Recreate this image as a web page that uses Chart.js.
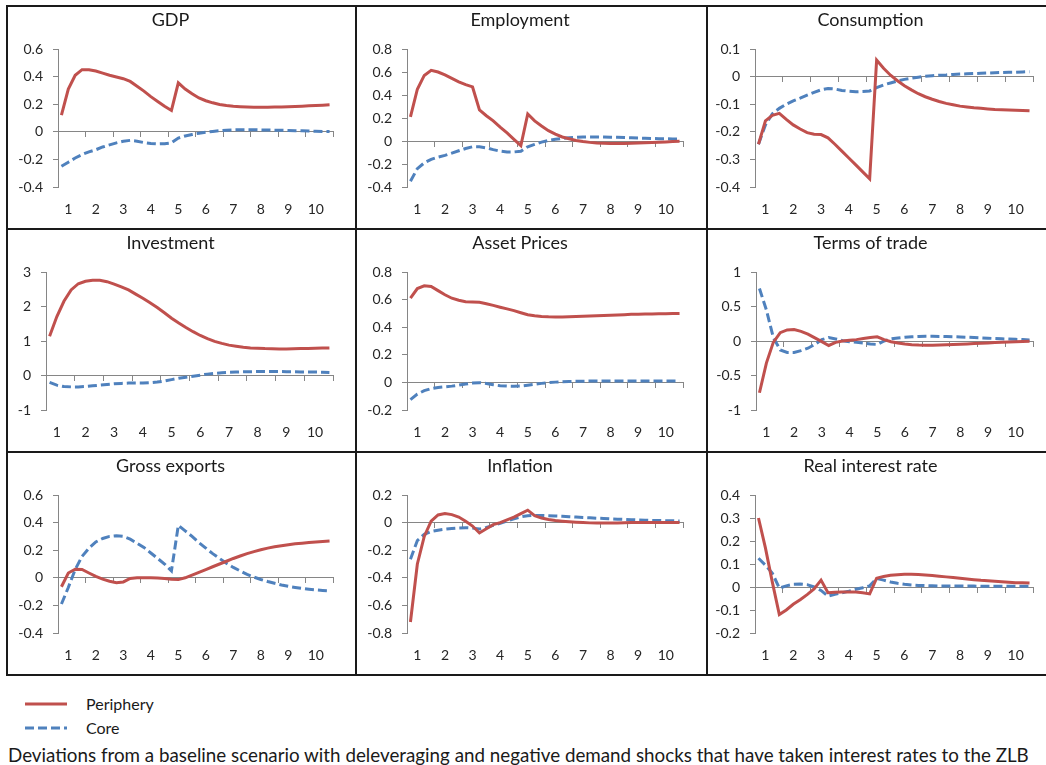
<!DOCTYPE html>
<html>
<head>
<meta charset="utf-8">
<script src="https://cdn.jsdelivr.net/npm/chart.js@4.4.1/dist/chart.umd.min.js"></script>
<style>
  body { margin: 0; background: #fff; width: 1046px; height: 765px; overflow: hidden; position: relative; font-family: Lato, sans-serif; color: #1a1a1a; }
  #grid { position: absolute; left: 6px; top: 5px; display: grid; grid-template-columns: 347px 349px 338px; grid-template-rows: 221px 221px 221px; gap: 2px; padding: 2px; background: #1a1a1a; }
  .cell { background: #fff; }
  .cell canvas { display: block; }
  .leg { position: absolute; left: 25px; width: 42px; height: 4px; }
  .legtext { position: absolute; left: 86px; font-size: 16px; line-height: 20px; }
  #caption { position: absolute; left: 8px; top: 743px; font-size: 18.8px; line-height: 24px; white-space: nowrap; }
</style>
</head>
<body>
<div id="grid"></div>
<svg class="leg" style="top:702px"><line x1="0" y1="2" x2="42" y2="2" stroke="#C0504D" stroke-width="3"/></svg>
<div class="legtext" style="top:694px">Periphery</div>
<svg class="leg" style="top:726px"><line x1="0" y1="2" x2="42" y2="2" stroke="#4F81BD" stroke-width="3" stroke-dasharray="9 4"/></svg>
<div class="legtext" style="top:718px">Core</div>
<div id="caption">Deviations from a baseline scenario with deleveraging and negative demand shocks that have taken interest rates to the ZLB</div>
<script>
const panelTitles = ['GDP', 'Employment', 'Consumption', 'Investment', 'Asset Prices', 'Terms of trade', 'Gross exports', 'Inflation', 'Real interest rate'];
const yearLabels = ['1', '2', '3', '4', '5', '6', '7', '8', '9', '10'];
const yMin = [-0.4, -0.4, -0.4, -1, -0.2, -1, -0.4, -0.8, -0.2];
const yMax = [0.6, 0.8, 0.1, 3, 0.8, 1, 0.6, 0.2, 0.4];
const yStep = [0.2, 0.2, 0.1, 1, 0.2, 0.5, 0.2, 0.2, 0.1];

// quarterly values, 40 per series
const gdpPeriphery = [0.12, 0.31, 0.41, 0.45, 0.45, 0.44, 0.425, 0.41, 0.397, 0.385, 0.365, 0.33, 0.295, 0.255, 0.22, 0.185, 0.155, 0.355, 0.31, 0.275, 0.245, 0.225, 0.21, 0.198, 0.19, 0.185, 0.182, 0.18, 0.178, 0.178, 0.178, 0.179, 0.18, 0.182, 0.184, 0.186, 0.188, 0.19, 0.193, 0.196];
const gdpCore = [-0.25, -0.22, -0.19, -0.165, -0.145, -0.13, -0.11, -0.095, -0.08, -0.068, -0.062, -0.068, -0.078, -0.085, -0.088, -0.086, -0.08, -0.045, -0.03, -0.02, -0.01, -0.003, 0.003, 0.008, 0.012, 0.014, 0.015, 0.015, 0.015, 0.014, 0.013, 0.012, 0.011, 0.01, 0.008, 0.007, 0.005, 0.004, 0.003, 0.002];
const empPeriphery = [0.21, 0.45, 0.57, 0.615, 0.6, 0.575, 0.545, 0.515, 0.49, 0.47, 0.27, 0.22, 0.175, 0.12, 0.07, 0.015, -0.04, 0.235, 0.175, 0.13, 0.09, 0.06, 0.035, 0.02, 0.005, -0.005, -0.012, -0.017, -0.02, -0.022, -0.022, -0.021, -0.019, -0.017, -0.015, -0.013, -0.01, -0.008, -0.005, -0.003];
const empCore = [-0.35, -0.24, -0.19, -0.16, -0.14, -0.125, -0.105, -0.085, -0.065, -0.05, -0.05, -0.06, -0.075, -0.088, -0.095, -0.095, -0.09, -0.05, -0.03, -0.01, 0.005, 0.015, 0.022, 0.028, 0.032, 0.034, 0.035, 0.035, 0.034, 0.033, 0.032, 0.03, 0.028, 0.026, 0.024, 0.022, 0.02, 0.019, 0.018, 0.017];
const consPeriphery = [-0.245, -0.16, -0.14, -0.133, -0.155, -0.175, -0.19, -0.203, -0.209, -0.21, -0.222, -0.245, -0.27, -0.295, -0.32, -0.345, -0.37, 0.06, 0.03, 0.005, -0.015, -0.033, -0.048, -0.062, -0.073, -0.082, -0.09, -0.097, -0.102, -0.107, -0.11, -0.113, -0.115, -0.117, -0.119, -0.12, -0.121, -0.122, -0.123, -0.124];
const consCore = [-0.245, -0.175, -0.135, -0.115, -0.1, -0.088, -0.078, -0.067, -0.057, -0.048, -0.043, -0.045, -0.05, -0.053, -0.055, -0.054, -0.052, -0.04, -0.03, -0.023, -0.016, -0.01, -0.006, -0.002, 0.001, 0.003, 0.005, 0.006, 0.008, 0.009, 0.01, 0.011, 0.012, 0.013, 0.014, 0.015, 0.016, 0.016, 0.017, 0.018];
const invPeriphery = [1.14, 1.7, 2.15, 2.48, 2.66, 2.73, 2.76, 2.76, 2.72, 2.65, 2.57, 2.48, 2.36, 2.24, 2.11, 1.97, 1.82, 1.66, 1.52, 1.39, 1.27, 1.16, 1.07, 0.99, 0.93, 0.88, 0.85, 0.82, 0.8, 0.79, 0.78, 0.775, 0.77, 0.77, 0.775, 0.78, 0.785, 0.79, 0.795, 0.8];
const invCore = [-0.2, -0.28, -0.32, -0.33, -0.33, -0.32, -0.3, -0.28, -0.26, -0.24, -0.23, -0.22, -0.22, -0.22, -0.21, -0.19, -0.16, -0.12, -0.08, -0.05, -0.02, 0.01, 0.04, 0.06, 0.08, 0.09, 0.1, 0.11, 0.11, 0.115, 0.115, 0.115, 0.115, 0.11, 0.11, 0.105, 0.1, 0.1, 0.095, 0.09];
const assetPeriphery = [0.61, 0.68, 0.7, 0.695, 0.665, 0.635, 0.61, 0.595, 0.585, 0.582, 0.58, 0.57, 0.558, 0.545, 0.533, 0.52, 0.505, 0.49, 0.483, 0.478, 0.475, 0.474, 0.474, 0.475, 0.477, 0.479, 0.481, 0.483, 0.485, 0.487, 0.489, 0.491, 0.493, 0.494, 0.495, 0.496, 0.497, 0.498, 0.499, 0.5];
const assetCore = [-0.125, -0.085, -0.06, -0.045, -0.037, -0.032, -0.027, -0.02, -0.012, -0.005, -0.002, -0.008, -0.017, -0.024, -0.027, -0.028, -0.026, -0.02, -0.013, -0.007, -0.002, 0.002, 0.005, 0.007, 0.008, 0.009, 0.01, 0.01, 0.01, 0.01, 0.01, 0.01, 0.01, 0.01, 0.01, 0.01, 0.01, 0.01, 0.01, 0.01];
const totPeriphery = [-0.75, -0.32, -0.02, 0.12, 0.16, 0.165, 0.14, 0.1, 0.045, -0.01, -0.065, -0.02, 0.0, 0.01, 0.02, 0.035, 0.05, 0.06, 0.02, -0.01, -0.03, -0.045, -0.053, -0.058, -0.06, -0.06, -0.058, -0.055, -0.052, -0.048, -0.043, -0.038, -0.033, -0.028, -0.023, -0.018, -0.014, -0.01, -0.007, -0.005];
const totCore = [0.76, 0.45, 0.05, -0.13, -0.165, -0.165, -0.14, -0.105, -0.05, 0.02, 0.05, 0.03, 0.005, -0.01, -0.02, -0.03, -0.045, -0.05, 0.0, 0.03, 0.045, 0.055, 0.062, 0.066, 0.068, 0.068, 0.067, 0.065, 0.062, 0.058, 0.054, 0.05, 0.045, 0.04, 0.036, 0.032, 0.028, 0.024, 0.02, 0.016];
const expPeriphery = [-0.065, 0.035, 0.062, 0.06, 0.035, 0.01, -0.01, -0.025, -0.035, -0.03, -0.005, 0.0, 0.0, 0.0, -0.002, -0.005, -0.01, -0.013, 0.0, 0.02, 0.04, 0.06, 0.08, 0.1, 0.12, 0.14, 0.158, 0.175, 0.19, 0.203, 0.215, 0.225, 0.233, 0.24, 0.246, 0.251, 0.256, 0.26, 0.263, 0.266];
const expCore = [-0.19, -0.07, 0.06, 0.155, 0.215, 0.26, 0.285, 0.3, 0.305, 0.3, 0.28, 0.25, 0.22, 0.18, 0.14, 0.1, 0.05, 0.38, 0.34, 0.3, 0.255, 0.215, 0.175, 0.14, 0.105, 0.075, 0.05, 0.025, 0.005, -0.012, -0.027, -0.04, -0.052, -0.062, -0.07, -0.077, -0.083, -0.088, -0.092, -0.095];
const inflPeriphery = [-0.72, -0.3, -0.1, 0.01, 0.055, 0.065, 0.058, 0.04, 0.01, -0.025, -0.075, -0.045, -0.015, 0.0, 0.02, 0.04, 0.065, 0.09, 0.05, 0.033, 0.022, 0.015, 0.01, 0.006, 0.003, 0.0, -0.002, -0.003, -0.003, -0.003, -0.002, -0.001, 0.0, 0.0, 0.0, 0.0, 0.0, 0.0, 0.0, 0.0];
const inflCore = [-0.265, -0.13, -0.085, -0.065, -0.055, -0.048, -0.043, -0.039, -0.037, -0.04, -0.047, -0.035, -0.02, -0.005, 0.012, 0.028, 0.042, 0.05, 0.052, 0.052, 0.05, 0.048, 0.046, 0.043, 0.04, 0.037, 0.035, 0.032, 0.03, 0.027, 0.025, 0.023, 0.021, 0.019, 0.017, 0.016, 0.015, 0.014, 0.013, 0.012];
const rirPeriphery = [0.3, 0.17, 0.02, -0.12, -0.1, -0.075, -0.055, -0.033, -0.008, 0.03, -0.025, -0.023, -0.022, -0.022, -0.022, -0.025, -0.03, 0.038, 0.046, 0.051, 0.053, 0.055, 0.055, 0.054, 0.052, 0.05, 0.047, 0.044, 0.041, 0.038, 0.035, 0.032, 0.029, 0.027, 0.025, 0.023, 0.021, 0.019, 0.018, 0.017];
const rirCore = [0.125, 0.095, 0.06, -0.005, 0.005, 0.012, 0.013, 0.01, 0.0, -0.015, -0.04, -0.032, -0.025, -0.018, -0.01, -0.003, 0.005, 0.037, 0.03, 0.022, 0.016, 0.012, 0.009, 0.007, 0.006, 0.005, 0.004, 0.004, 0.004, 0.004, 0.004, 0.004, 0.003, 0.003, 0.003, 0.003, 0.003, 0.003, 0.003, 0.003];

const peripherySeries = [gdpPeriphery, empPeriphery, consPeriphery, invPeriphery, assetPeriphery, totPeriphery, expPeriphery, inflPeriphery, rirPeriphery];
const coreSeries = [gdpCore, empCore, consCore, invCore, assetCore, totCore, expCore, inflCore, rirCore];

// layout per panel
const cellW = [347, 349, 338];
const cellH = 221;
const yAxisWidth = [50, 50, 47, 38, 50, 48, 50, 50, 47];
const rightPad = [22, 23, 13];

const tickFont = { family: 'Lato', size: 14 };
const axisGrey = '#868686';
const textColor = '#262626';

const toPoints = arr => arr.map((v, i) => ({ x: i + 0.5, y: v }));

const grid = document.getElementById('grid');

panelTitles.forEach((title, p) => {
  const col = p % 3;
  const cell = document.createElement('div');
  cell.className = 'cell';
  const canvas = document.createElement('canvas');
  canvas.width = cellW[col];
  canvas.height = cellH;
  cell.appendChild(canvas);
  grid.appendChild(cell);

  const yTicks = [];
  for (let v = yMin[p]; v <= yMax[p] + 1e-9; v += yStep[p]) {
    yTicks.push(Math.round(v * 1000) / 1000);
  }

  new Chart(canvas, {
    type: 'line',
    data: {
      datasets: [
        {
          label: 'Periphery',
          data: toPoints(peripherySeries[p]),
          borderColor: '#C0504D',
          borderWidth: 3,
          pointRadius: 0,
          tension: 0,
          xAxisID: 'x',
          yAxisID: 'y'
        },
        {
          label: 'Core',
          data: toPoints(coreSeries[p]),
          borderColor: '#4F81BD',
          borderWidth: 3,
          borderDash: [9, 4],
          pointRadius: 0,
          tension: 0,
          xAxisID: 'x',
          yAxisID: 'y'
        }
      ]
    },
    options: {
      responsive: false,
      animation: false,
      events: [],
      layout: { padding: { left: 0, right: rightPad[col], top: 0, bottom: 0 } },
      plugins: {
        legend: { display: false },
        tooltip: { enabled: false },
        title: {
          display: true,
          text: title,
          color: '#1a1a1a',
          font: { family: 'Lato', size: 18, weight: 'normal' },
          padding: { top: 2, bottom: 18.4 }
        }
      },
      scales: {
        x: {
          type: 'linear',
          min: 0,
          max: 40,
          position: { y: 0 },
          afterBuildTicks: s => { s.ticks = yearLabels.concat(['']).map((l, k) => ({ value: k * 4 })); },
          ticks: { display: false },
          grid: { display: true, drawOnChartArea: false, drawTicks: true, tickLength: 5, color: axisGrey },
          border: { display: true, color: axisGrey, width: 1 }
        },
        years: {
          type: 'linear',
          axis: 'x',
          position: 'bottom',
          min: 0,
          max: 40,
          afterBuildTicks: s => { s.ticks = yearLabels.map((l, k) => ({ value: k * 4 + 1.5 })); },
          afterFit: s => { s.height = 41; },
          ticks: {
            autoSkip: false,
            maxRotation: 0,
            padding: 14,
            color: textColor,
            font: tickFont,
            callback: (v, i) => yearLabels[i]
          },
          grid: { display: false, drawTicks: false },
          border: { display: false }
        },
        y: {
          min: yMin[p],
          max: yMax[p],
          afterBuildTicks: s => { s.ticks = yTicks.map(v => ({ value: v })); },
          afterFit: s => { s.width = yAxisWidth[p]; },
          ticks: {
            padding: 10,
            color: textColor,
            font: tickFont,
            callback: v => String(Math.round(v * 1000) / 1000)
          },
          grid: { display: true, drawOnChartArea: false, drawTicks: true, tickLength: 5, color: axisGrey },
          border: { display: true, color: axisGrey, width: 1 }
        }
      }
    }
  });
});
</script>
</body>
</html>
